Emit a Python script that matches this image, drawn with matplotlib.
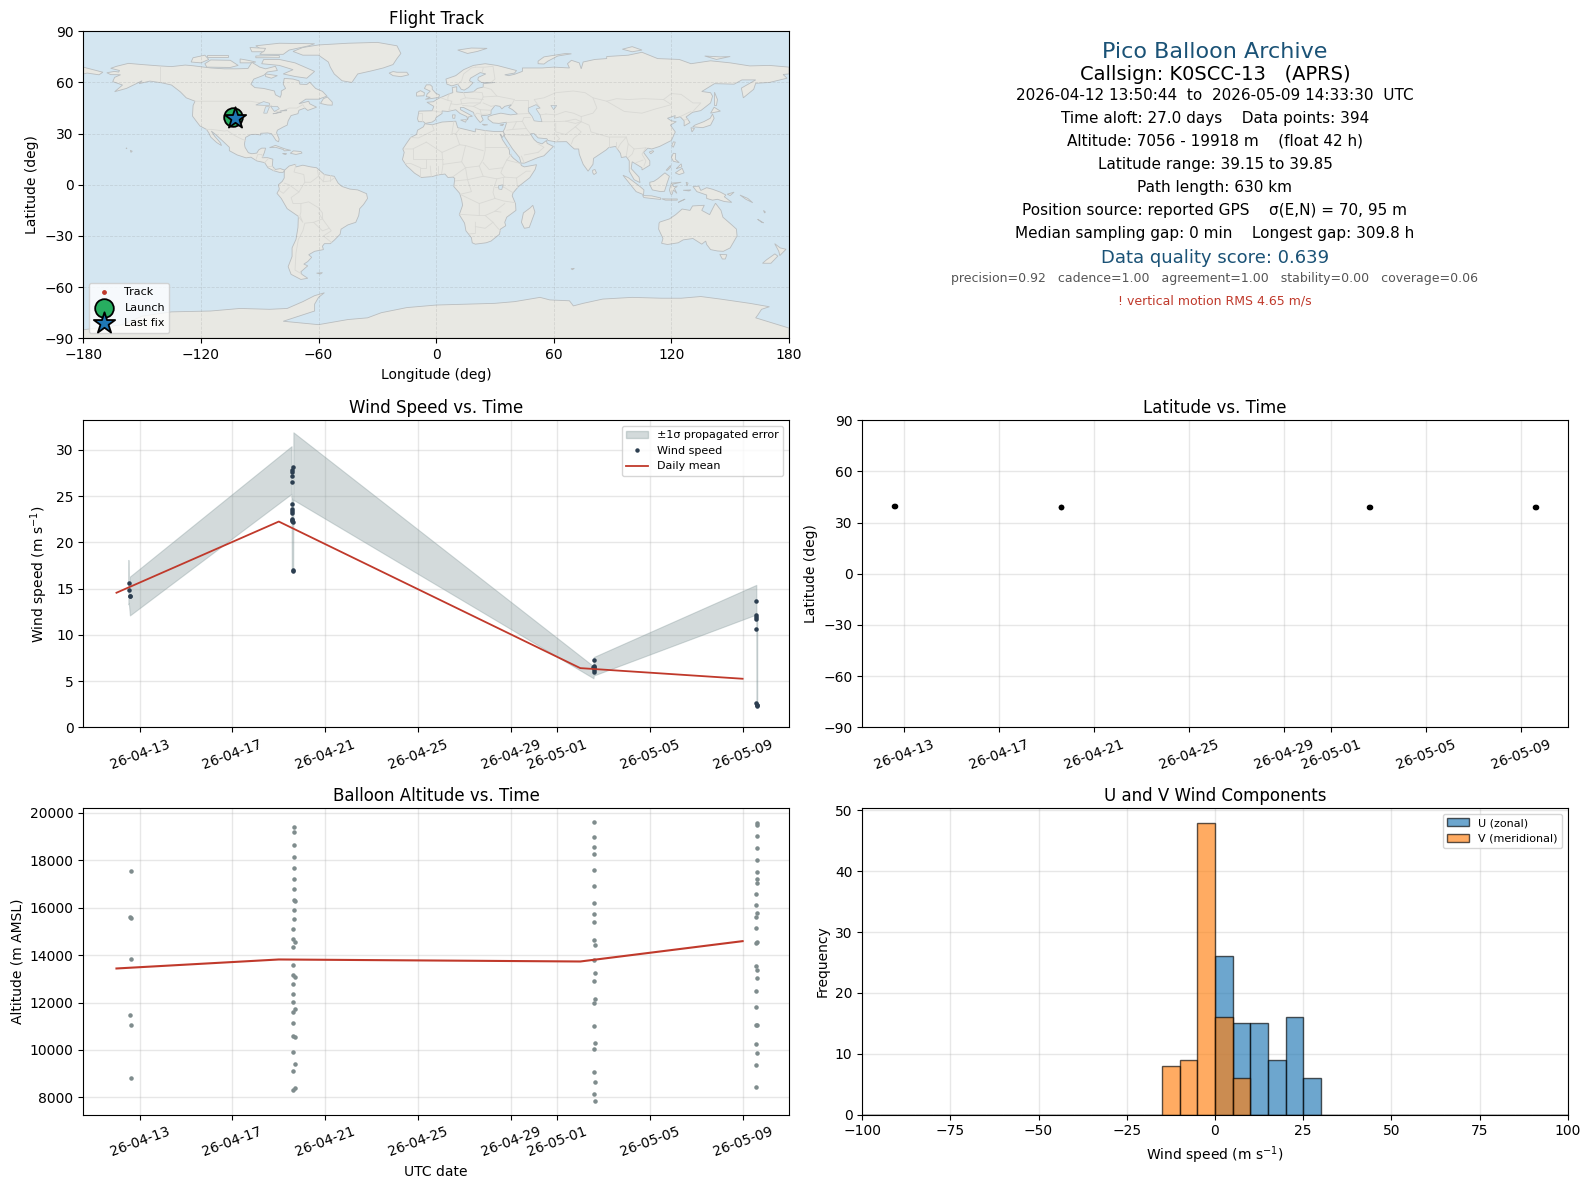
from datetime import datetime
import numpy as np
import matplotlib
matplotlib.use("Agg")
import matplotlib.pyplot as plt
import matplotlib.dates as mdates
from matplotlib.patches import Patch, Polygon
from matplotlib.lines import Line2D

# days are counted from 1 April 2026 (so 32.5 = 2 May, midday)
wind_band_day = [12.515, 12.535, 12.58, 19.55, 19.56, 19.62, 19.63, 32.57, 32.58, 39.59, 39.595, 39.63]
wind_band_low = [13.3, 13.4, 12.1, 25.25, 16.8, 16.8, 24.6, 5.3, 5.6, 12.2, 2.3, 2.3]
wind_band_high = [18.1, 15.0, 16.3, 30.4, 24.9, 24.6, 31.9, 6.6, 7.6, 15.4, 12.0, 12.0]

wind_day = [12.55, 12.55, 12.59, 12.59,
            19.63, 19.55, 19.55, 19.55, 19.55, 19.55, 19.56, 19.56, 19.56, 19.57, 19.58, 19.6, 19.61, 19.63, 19.59,
            32.58, 32.58, 32.58, 32.58, 32.58, 32.56, 32.6,
            39.57, 39.57, 39.57, 39.57, 39.57, 39.58, 39.6, 39.62, 39.6]
wind_speed = [15.65, 14.8, 14.25, 14.2,
              28.2, 27.8, 27.6, 27.2, 26.5, 24.2, 23.6, 23.4, 23.2, 22.4, 22.3, 22.2, 17.0, 16.95, 22.5,
              7.3, 6.6, 6.4, 6.15, 6.0, 6.5, 6.5,
              13.7, 12.1, 11.95, 11.7, 10.6, 2.6, 2.45, 2.45, 2.3]

mean_day = [12, 19, 32, 39]
mean_wind = [14.55, 22.25, 6.4, 5.25]
mean_alt = [13437, 13817, 13732, 14591]

alt_day = [12.61, 12.57, 12.61, 12.61, 12.57, 12.61, 12.61,
           19.65, 19.65, 19.65, 19.65, 19.65, 19.65, 19.65, 19.65, 19.7, 19.65, 19.65, 19.61, 19.61, 19.7, 19.61,
           19.61, 19.61, 19.7, 19.61, 19.61, 19.61, 19.7, 19.61, 19.61, 19.61, 19.7, 19.61, 19.7, 19.61, 19.61, 19.7,
           32.59, 32.59, 32.59, 32.59, 32.59, 32.59, 32.59, 32.59, 32.59, 32.59, 32.63, 32.59, 32.63, 32.59, 32.63,
           32.59, 32.59, 32.63, 32.59, 32.59, 32.63, 32.59, 32.63,
           39.6, 39.6, 39.6, 39.6, 39.6, 39.6, 39.6, 39.6, 39.56, 39.56, 39.6, 39.56, 39.56, 39.6, 39.56, 39.56, 39.6,
           39.6, 39.56, 39.56, 39.6, 39.56, 39.56, 39.6, 39.56, 39.56]
alt_m = [17549, 15606, 15563, 13831, 11465, 11042, 8803,
         19408, 19197, 18648, 18141, 17676, 17211, 16789, 16324, 16282, 15901, 15521, 15099, 14676, 14563, 14338,
         13577, 13155, 13070, 12775, 12352, 12014, 11718, 11592, 11127, 10577, 10535, 9901, 9394, 9099, 8296, 8380,
         19620, 18986, 18563, 18268, 17592, 16915, 16197, 15732, 15394, 14634, 14423, 13789, 13239, 12901, 12141,
         11972, 11000, 10282, 10028, 9056, 8634, 8127, 7831,
         19577, 19507, 19028, 18521, 18014, 17507, 17211, 17042, 16577, 16113, 15775, 15606, 15141, 14549, 14521, 13535, 13366,
         13028, 12479, 11803, 11042, 11042, 10239, 9859, 9352, 8423]

lat_day = [12.59, 12.62, 19.62, 19.62, 32.59, 32.62, 39.6, 39.62]
lat_deg = [39.7, 39.85, 39.4, 39.35, 39.3, 39.3, 39.25, 39.3]

track_lon = [-103.7, -104.0, -103.2, -102.8]
track_lat = [39.8, 39.4, 39.2, 39.4]
launch_lon, launch_lat = -103.7, 39.8
last_lon, last_lat = -102.6, 39.4

bin_edges = np.arange(-100, 105, 5)
u_bin_left = [0, 5, 10, 15, 20, 25]
u_counts = [26, 15, 15, 9, 16, 6]
v_bin_left = [-15, -10, -5, 0, 5]
v_counts = [8, 9, 48, 16, 6]

info_lines = ["Pico Balloon Archive",
              "Callsign: K0SCC-13   (APRS)",
              "2026-04-12 13:50:44  to  2026-05-09 14:33:30  UTC",
              "Time aloft: 27.0 days    Data points: 394",
              "Altitude: 7056 - 19918 m    (float 42 h)",
              "Latitude range: 39.15 to 39.85",
              "Path length: 630 km",
              "Position source: reported GPS    σ(E,N) = 70, 95 m",
              "Median sampling gap: 0 min    Longest gap: 309.8 h",
              "Data quality score: 0.639",
              "precision=0.92   cadence=1.00   agreement=1.00   stability=0.00   coverage=0.06",
              "! vertical motion RMS 4.65 m/s"]
info_y_px = [52, 74.3, 95.3, 118.3, 141.3, 164.3, 187.3, 210.3, 233.3, 257.7, 278.7, 301.2]
info_size = [16, 14, 11, 11, 11, 11, 11, 11, 11, 13, 9, 9]
info_color = ["#1a5276", "black", "black", "black", "black", "black", "black", "black", "black",
              "#1a5276", "#555555", "#c0392b"]

# rough world outline, lon/lat typed from memory
land = [
    # North and Central America
    [(-168,65.7),(-164,66.5),(-162,66.1),(-161.5,67),(-166,68.3),(-163,69.5),(-157,71.2),(-150,70.5),(-141,69.7),(-135,69.3),
     (-128,70.2),(-124,69.8),(-115,68.5),(-108,68),(-102,68),(-96,68.2),(-94,71.8),(-90,69),(-87,68),(-82,69.5),(-81,67),
     (-86,66.2),(-88,64.2),(-93,62),(-94.5,59),(-92.5,57),(-88,56.5),(-82.5,55),(-82,52.8),(-79.5,51.3),(-79,53),(-79,55),
     (-76.8,56.5),(-78,59),(-77.5,62.4),(-73,62),(-70,61),(-69.5,59),(-66,58.8),(-64.5,60.2),(-61.5,56.5),(-58,54.8),
     (-55.7,52),(-60,50.2),(-66.5,50.2),(-70,47.5),(-65,49),(-64.5,47.5),(-61,45.5),(-65.5,43.6),(-67,45),(-70,43.7),
     (-70.5,41.7),(-74,40.6),(-75.5,37.5),(-76,35),(-78,33.9),(-81,32),(-81.4,30.5),(-80.1,26.8),(-80.4,25.2),(-81.7,26),
     (-82.8,28),(-84,30),(-86,30.4),(-89.5,30.2),(-89.5,29.2),(-92,29.6),(-94.5,29.5),(-97.2,27.8),(-97.8,24),(-97.5,22),
     (-95.8,18.8),(-94,18.2),(-91.5,18.6),(-90.5,20.5),(-89,21.5),(-87,21.5),(-87.6,19),(-88.3,17),(-88.8,15.9),(-86,15.9),
     (-83.3,15),(-83.6,11),(-82,9),(-79.5,9.5),(-77.3,8.6),(-78,7.3),(-80,7.3),(-83,8.3),(-85.8,10),(-87.5,13),(-91.5,14),
     (-94.5,16.2),(-97,15.8),(-101.5,17.5),(-105.5,20),(-105.5,22),(-109,25.8),(-112.5,29.5),(-114.7,31.5),(-113,28.5),
     (-110,24.5),(-109.5,23),(-112,24.8),(-115,28),(-116,30.5),(-117.2,32.5),(-120.5,34.5),(-122.5,37.5),(-124.3,40.3),
     (-124,46.5),(-123,49),(-127.5,51),(-130.5,54.5),(-135,58.5),(-140,59.8),(-146,60.8),(-151.5,59.3),(-150,61),(-153.5,59),
     (-158,56.5),(-164,54.6),(-160,58.5),(-165,60.5),(-164,63),(-161,64.5),(-166,64.6)],
    # South America
    [(-77.3,8.6),(-75,11),(-72,12),(-71.5,10.5),(-68,11.5),(-64,10.5),(-61,10),(-57,6),(-52,5),(-50,1),(-48,-1),(-44,-2.5),
     (-40,-3),(-35.5,-5.2),(-35,-8),(-37,-11.5),(-39,-14),(-39.5,-18),(-41,-22),(-45,-23.5),(-48.5,-26),(-49,-29),(-52,-32.5),
     (-54,-34.5),(-57,-34.5),(-58,-36),(-57.5,-38),(-62,-39),(-65,-41),(-63.5,-42.5),(-65.5,-45),(-67.5,-46.5),(-65.5,-47.5),
     (-69,-51),(-68.5,-52.5),(-65.5,-54.8),(-69,-55.5),(-74,-52.5),(-75.5,-48),(-73.5,-42),(-73.5,-37),(-71.5,-32),(-70.5,-25),
     (-70.3,-18.5),(-76,-14),(-79,-8),(-81.2,-5),(-80,-2.5),(-80.5,0),(-78.5,2),(-77.5,4),(-77.5,7)],
    # Greenland and arctic islands
    [(-73,78.2),(-68,80.5),(-60,82),(-45,83),(-30,83.5),(-20,81.5),(-18,77),(-20,74),(-22,70.5),(-27,68.5),(-33,66.8),(-40,65),
     (-43,60),(-48,61),(-52,65),(-54,69),(-55,72),(-60,76),(-68,76)],
    [(-80,73.5),(-72,71.5),(-67,69),(-62,66.5),(-66,62.5),(-72,63.5),(-78,65),(-73,67.5),(-80,70),(-89,71),(-88,73.5)],
    [(-90,76.5),(-78,76.5),(-75,79),(-65,81.5),(-62,82.7),(-80,83),(-92,81.5),(-88,78.5)],
    [(-117,69),(-105,68.8),(-101,70),(-105,73),(-115,73.2),(-118,71)],
    [(-125,72),(-120,71.5),(-116,73.5),(-118,76),(-124,74.5)],
    [(-92,75.5),(-80,75.8),(-80,74.5),(-92,74.5)],
    [(-100,73.8),(-96,73),(-92,72),(-95,71.5),(-100,71.5)],
    [(-117,76),(-106,76),(-106,75),(-117,75)],
    [(-95,80.5),(-87,80),(-88,78),(-94,78)],
    [(-87,65),(-81,64),(-84,62.5),(-87,63.5)],
    [(-59,47.7),(-55.5,46.8),(-53,46.7),(-53,48.5),(-55.5,51.5),(-57.5,50.5)],
    # Caribbean, Pacific bits
    [(-85,21.8),(-82,23.1),(-77,21),(-74.2,20.2),(-77.5,19.9),(-78,20.7),(-82,22)],
    [(-74.4,18.5),(-72.8,19.9),(-69,19.5),(-68.4,18.6),(-71.5,17.8)],
    [(-78.3,18.3),(-76.3,18.2),(-77,17.8)],
    [(-156,20.2),(-155,19.7),(-155.7,19)],
    [(-158.2,21.6),(-157.7,21.4),(-158,21.2)],
    [(-61,-51.8),(-58,-51.5),(-59,-52.3)],
    # Eurasia
    [(-9,37),(-9.5,38.7),(-8.8,43.2),(-2,43.4),(-1.2,46),(-4.7,48.4),(-1.5,48.7),(1.5,50.8),(4,52),(7,53.5),(8.5,54),(8.2,57),
     (10.5,57.5),(10.5,54.5),(14,54),(19,54.5),(21,56.5),(24,57.3),(24,59.3),(30,60),(23,60),(21.3,61.5),(21.5,63),(25.3,65),
     (22.5,65.8),(17.5,62.5),(17,61),(18.8,59.8),(16.5,57),(14.3,55.5),(12.8,56),(11,59),(8,58),(5.5,59),(5,62),(10,64),(14,67.5),
     (19,70),(25,71),(31,70),(41,67),(40,65.5),(35,64.5),(37,64),(40,64.8),(44,66.5),(44,68.5),(54,68.5),(60,69),(68,68.5),(67,71),
     (69,73),(73,71.5),(74,68),(75,72),(81,73.5),(87,74),(87,75.2),(98,76),(105,77.7),(113,74),(124,73.5),(130,71),(140,72.7),
     (150,71.5),(160,69.7),(170,70),(180,69),(180,65),(177,64.7),(179,62.5),(170,60),(163,59.5),(162,56),(156.7,51),(155.7,56.7),
     (163,61.5),(156,61.5),(152,59),(142,59.3),(135.5,54.7),(140,54),(141,52),(140,48),(135,43.5),(130.8,42.5),(127.5,39.8),
     (129.5,36.5),(126.5,34.5),(126.5,37.5),(124.5,39.9),(121.5,39),(122,40.6),(118,39),(120,37.5),(122.5,37),(119.5,35),(122,31),
     (120,26),(114,22.5),(110,21),(108,21.5),(105.8,19),(109,14),(109,11.5),(105,8.7),(105,10),(100,13.5),(99.5,9.5),(103.5,4.5),
     (104,1.3),(101,3),(98.5,8),(98.5,14),(97,16.5),(94.5,16),(94,18.5),(91.5,22.5),(88,21.8),(86.8,20.5),(80.3,15.5),(80,12),
     (77.5,8),(75,12),(73,18),(72.7,21),(70.5,21),(69,22.5),(66.5,25.3),(61,25.2),(57,26),(56.5,27),(52,27.5),(50,30),(48,30),
     (50,26.5),(51.5,25),(54,24),(56.3,26),(56.6,24.3),(59.8,22.5),(55,17),(52,16),(45,12.7),(43.3,12.7),(42.5,16),(39,21),(35,28),
     (34.8,29.5),(34.2,31.3),(35,33),(36,36.7),(32,36),(29,36.3),(26.5,38.5),(26.5,40),(29,41),(33,42),(38,41),(41.5,41.5),(39,44),
     (37,45.3),(38.5,47),(35,46),(33.5,44.5),(32.5,46),(30,46.5),(28,43.5),(28,41.5),(26,40.8),(23,40.5),(24,38),(22.5,36.5),
     (21,38.5),(19.5,41),(19,42.5),(14,45.3),(12.3,45.3),(12.5,44),(16,41.8),(18.5,40.2),(16.5,39.8),(16,38),(15.7,40),(12.2,41.8),
     (10,44),(6,43),(3,43.3),(3,41.8),(0,39.5),(-0.5,38),(-2,36.8),(-5.5,36),(-6.5,37)],
    [(-180,69),(-175,67.5),(-170,66),(-172,64.5),(-178,65.5),(-180,65)],
    # Africa
    [(-5.8,35.8),(-2,35.2),(3,36.8),(10,37.3),(11,33.5),(15.5,32.3),(20,31),(20,32.8),(25,31.8),(30,31.2),(32.3,31.2),(34.2,31.3),
     (34.8,29.5),(33.8,27.8),(32.7,29.8),(33.8,26.5),(35.8,23),(37.3,20.5),(37.5,18),(39.5,15.5),(43.2,12.2),(43.5,11.3),(45,10.5),
     (51.2,11.8),(50.5,9),(47.8,4.2),(42,-1),(39.2,-4.8),(38.8,-6.5),(40.5,-11),(40.7,-15),(36,-19),(35,-22),(35.5,-24),(32.8,-26),
     (32.3,-29),(28,-33),(25.5,-34),(20,-34.8),(18.4,-34),(18,-31),(15.2,-27),(14.5,-22.5),(11.8,-17.5),(13.5,-12),(13,-8.8),(12,-5),
     (9,-1),(9.5,3.8),(8.5,4.5),(6,4.3),(4.5,6.3),(1,5.8),(-2,4.8),(-7.5,4.3),(-11,6.8),(-13.5,9.5),(-15,11),(-17.2,14.8),(-16.3,19),
     (-17,21),(-15,24.5),(-13,27.8),(-10,29.5),(-9.5,32),(-6.5,34)],
    [(49.3,-12),(50.4,-16),(47.5,-25),(45,-25.5),(43.5,-22),(44.5,-16.5),(48,-13.5)],
    # European islands
    [(-5.5,50.1),(1.3,51.2),(1.7,52.7),(0,53.5),(-2,56),(-2,57.6),(-3,58.6),(-5,58.6),(-6,56.5),(-3,54.9),(-4.6,53.2),(-5,51.7),(-3,51.3)],
    [(-10,52),(-6.2,52.2),(-6,54),(-8,55.2),(-10,54)],
    [(-24,65.5),(-22,64),(-18,63.4),(-14,64.5),(-15,66),(-20,66),(-22,66.4)],
    [(11,79),(16,77),(21,78.2),(26,80),(18,80.2)],
    [(52,71),(55,70.8),(57,72.5),(62,75.5),(69,76.8),(66,77),(55,75),(52,72.5)],
    [(95,79.5),(100,78),(105,79),(100,81)],
    [(137,75.5),(145,75),(150,75.2),(143,73.5)],
    [(12.5,38),(15.5,38.2),(15,36.7)],
    [(8.3,41),(9.7,41),(9.5,39),(8.5,39)],
    [(23.5,35.5),(26.3,35.2),(24.5,34.9)],
    [(32.5,35),(34.5,35.6),(33.8,34.7)],
    # East and South East Asia
    [(142,54.3),(143.5,50),(143,46.5),(142,46.5),(142,50)],
    [(130.9,34),(136,33.5),(140,35),(141.8,39),(141,41.5),(139.8,39),(136.5,37),(132,35)],
    [(140,42),(145,43.2),(141.8,45.5)],
    [(130,33.5),(131.8,33),(130.5,31)],
    [(120.2,23),(121,22),(122,25),(121,25.2)],
    [(108.7,19.2),(110.5,20),(111,19.6),(109.5,18.2)],
    [(79.8,8.5),(81,9),(81.8,7),(80.5,6),(79.9,7)],
    [(120,16),(121,18.5),(122.2,18.3),(122,15),(124,13),(121,13.8)],
    [(122,7),(125.5,9.7),(126.5,7),(124,6)],
    [(123,10),(125,12.3),(125.3,10.5),(122.5,9.5)],
    [(117.3,8.5),(119.5,11.3),(119.7,10.5),(118,8.5)],
    [(95.3,5.6),(98,4.2),(104,-1),(106,-3),(105.8,-5.8),(102,-4),(98.5,1)],
    [(105.3,-6.3),(110,-6.5),(114.5,-7.7),(114.5,-8.6),(106,-7.5)],
    [(115,-8.2),(119,-8.3),(123,-8.3),(123,-9),(117,-9)],
    [(123.5,-10.3),(127,-8.4),(125,-9.4)],
    [(109,1.5),(111,2),(113,3.5),(116.7,7),(119,5),(117.8,1),(116.5,-3.8),(114.5,-4),(110.3,-3),(109,0)],
    [(119.7,-5.5),(119,-3),(120,1),(125,1.5),(120.5,0.3),(121,-1),(123,-1),(121.5,-2),(122.8,-5),(121,-3),(120.4,-5.5)],
    [(127.5,1.5),(128.5,1),(128,-0.7)],
    [(126,-3.2),(130,-3),(129,-3.6)],
    # New Guinea and Oceania
    [(131,-1),(134,-0.8),(135,-3.3),(138,-1.7),(141,-2.6),(145,-4.3),(147.8,-6),(147,-7),(150.8,-10.3),(147,-9.8),(143.5,-8.5),
     (141,-9),(138,-8),(138,-6),(133,-4),(132,-2.5)],
    [(113.7,-22.5),(114.2,-21.8),(119,-20),(122.2,-17.5),(125.5,-14.2),(129.5,-15),(130.8,-12.4),(136.8,-12),(135.5,-15),(139.5,-17.5),
     (141.7,-12.5),(142.5,-10.8),(145.3,-15),(146.3,-19),(150.8,-23.5),(153.2,-26),(153.5,-30),(150,-37),(146.5,-39),(143.5,-38.8),
     (140,-38),(138,-35),(137.5,-33),(135.5,-34.8),(131,-31.5),(126,-32.3),(123.5,-34),(118,-35),(115,-34.3),(115.7,-31.5),(113.5,-26)],
    [(144.7,-40.8),(148.3,-41),(147.5,-43.5),(146,-43.5)],
    [(172.7,-34.5),(175.5,-37),(178.5,-37.8),(175.3,-41.5),(174.8,-39)],
    [(172.8,-40.5),(174.3,-41.8),(170.8,-46),(166.5,-46),(168.5,-44)],
    [(148.5,-5.5),(152,-4.3),(150,-6.3)],
    [(155,-6),(159,-8),(161.5,-10.5),(158,-8.5)],
    [(167,-15),(167.5,-16.5),(168,-16)],
    [(164,-20.2),(167,-22.3),(166,-22)],
    [(68.8,-49.2),(70.5,-49),(69.5,-49.8)],
    # Antarctica
    [(-180,-85),(-160,-82),(-150,-77),(-135,-74.5),(-115,-74),(-100,-72.5),(-85,-73),(-76,-72.5),(-68,-68.5),(-62,-65),(-57,-63.3),
     (-60,-66),(-62,-70),(-62,-74),(-70,-77),(-78,-80),(-60,-82),(-45,-79),(-35,-78),(-28,-75),(-15,-72),(0,-70.5),(15,-70),(30,-69.5),
     (40,-68.5),(53,-66),(58,-67.5),(68,-68),(70,-71),(75,-69.5),(85,-67),(100,-66),(115,-66.5),(125,-66.5),(135,-65.5),(145,-67),
     (160,-69.5),(170,-71.5),(166,-73),(164,-76.5),(163,-78),(180,-84),(180,-90),(-180,-90)],
]

lakes = [
    [(47,45),(51,47),(53,45),(51,44.5),(53,41),(54,37),(50,37.5),(49,40),(47,43)],
    [(-92,46.8),(-88,48.8),(-85,47.8),(-85,46.6),(-88,46.6)],
    [(-88,42),(-87,45.8),(-85,45.8),(-86.3,42)],
    [(-84.5,46),(-81,46),(-80,44.6),(-82.5,43)],
    [(-83.3,41.6),(-79,42.8),(-79,42.5)],
    [(-79.7,43.3),(-76.2,44),(-76.3,43.4)],
    [(58.5,46.5),(61.5,46.5),(60,44)],
    [(31.8,-0.5),(34,0),(33.5,-2.8),(32,-2.5)],
]

borders = [
    [(-141,69.7),(-141,60)], [(-123,49),(-95,49),(-89,48),(-84,46.5),(-82.5,43),(-79,43),(-75,45),(-71,45),(-68,47),(-67,45)],
    [(-117.2,32.5),(-114.7,32.5),(-108,31.5),(-106.5,31.8),(-103,29),(-99.5,27),(-97.2,25.9)],
    [(-92,14.5),(-91,17.8),(-89,17.8),(-88.3,15.8)], [(-87.5,13),(-85.5,15.5)], [(-85.8,11),(-83.7,11)], [(-83,8.3),(-82.6,9.5)],
    # South America
    [(-71.5,12),(-72.5,7.5),(-67.5,6),(-67,1.5),(-70,-4.2),(-74,-7.5),(-73,-11),(-69,-11),(-65,-10),(-60,-13.5),(-58,-16.5),(-58,-20),(-54.5,-25.5),(-53.5,-27),(-57.5,-30),(-53.5,-33.7)],
    [(-67,1.5),(-64,1.5),(-60,5),(-60.5,8.5)], [(-60,5),(-57.5,1.8),(-54,2.3),(-52,4)], [(-57,6),(-57.5,1.8)], [(-54,5.8),(-54,2.3)],
    [(-77.5,1),(-75,0),(-70,-4.2)], [(-80,-3.4),(-78,-5),(-75,-1.5)], [(-69,-11),(-69,-16),(-69.5,-18),(-68,-22),(-70.4,-18.4)],
    [(-58,-20),(-62.5,-22),(-67,-22.5),(-68,-27),(-70.3,-32),(-71.5,-40),(-72,-50),(-69,-52)], [(-62.5,-22),(-58,-27),(-54.5,-25.5)], [(-58,-20),(-60,-16.5)],
    # Europe
    [(-9,42),(-7,42),(-7,37.2)], [(-1.8,43.4),(3,42.5)], [(2.5,51),(6,49.5),(8,49),(7.5,47.5),(10.5,47),(13,47.5),(17,48),(22.5,48),(24,51.5),(23.5,54),(19,54.5)],
    [(6,49.5),(6,51.5),(7,53.5)], [(7.5,47.5),(6.5,44),(7.5,43.8)], [(14,54),(15,51),(12.5,50),(13,47.5)], [(15,51),(24,50)], [(13.5,46.5),(19,46),(22.5,48)],
    [(19,46),(22.5,44),(28,43.7)], [(22.5,44),(23,41.3),(26,41.5)], [(19.5,41),(21,42),(23,41.3)], [(24,51.5),(31,52),(40,50),(38.5,47)], [(24,57.3),(28,56),(31,52)],
    [(28,60),(30,62),(29,69.5),(25,69),(20,69)], [(11,59),(13,61),(14,65),(18,68.5),(20,69)], [(23.5,66),(24,68.5)],
    [(28,46),(30,46.5)], [(24,48),(28,46)],
    # Russia and central Asia
    [(40,50),(47,50),(47,45)], [(53,45),(50,50),(55,51),(61,54),(70,55),(76,54),(80,51),(87,49),(92,50.5),(98,50),(106,50.5),(116,50),(120,53.5),(125,53),(131,48),(135,48),(131,43)],
    [(87,49),(96,43),(105,42),(112,44.5),(120,47),(116,50)], [(80,51),(82,45),(80,42),(74,40),(74,37),(78,35),(79,31),(88,28),(97,28),(98,24),(101,21),(107,21.7)],
    [(54,37),(60,37),(66,37.3),(71,38.5),(74,37)], [(56,41.5),(53,41)], [(56,41.5),(61,41),(66,43),(70,42),(74,40)], [(66,37.3),(71,36),(74,37)], [(61,36),(61,31),(66,29.5),(71,34),(74,37)],
    [(61,25.2),(63,27),(61,29.5)], [(71,34),(74,31),(70,27),(69,24)], [(88,28),(88,22)], [(92,25),(92,21.5)], [(97,28),(94,24),(92.5,21)], [(98,24),(97,17)], [(101,21),(100,18),(98,16)], [(107,21.7),(105,18),(107,14),(106,11)], [(102,13),(105.5,14.5)],
    [(124.5,40),(130,43)], [(126.5,38),(128.5,38.5)],
    # Middle East
    [(44,37.2),(41,37),(36,36.5)], [(44,37.2),(46,33),(48,30)], [(44,37.2),(44.8,39.5),(48,39.5)], [(41,37),(39,32.5),(36,32)], [(46,33),(39,32.5)], [(47.5,29),(44,29),(35,29.5)],
    [(45,12.8),(43.5,16.8)], [(52,19),(55,22),(52,24)], [(52,19),(45,17.5)], [(42,41.5),(47,41.8),(49,41.5)],
    # Africa
    [(-2,35),(-1,32),(-9,27.5),(-13,27.7)], [(-5,25),(-12,21),(-16,21)], [(-5,25),(3,19),(12,23.5),(15,23),(24,20)], [(9,37),(8,30),(10,30),(12,23.5)], [(10,30),(12,33)],
    [(25,31.8),(25,20),(24,15),(22,11),(15,10),(13,13.5),(15,23)], [(25,22),(37,22)], [(24,13),(27,9),(34,10),(36,14.5),(38.5,18)], [(34,10),(33,7),(35,4.5),(41,4),(41.5,-1.7)],
    [(41,4),(46,8),(48,8)], [(36,14.5),(43,12.5)], [(3,19),(3.5,12),(2.8,6.5)], [(-12,21),(-12,15),(-5,15),(3.5,15)], [(-5,15),(-5,10),(-8,10),(-8,4.5)], [(-8,10),(-13,12.5),(-16,12.5)], [(-3,11),(-2.5,5)], [(1,11),(1,6)],
    [(3.5,12),(13,13.5)], [(8.5,4.7),(15,10)], [(15,10),(16,3),(9.8,2.3)], [(16,3),(24,5),(31,3.5),(35,4.5)], [(22,11),(24,5)], [(31,3.5),(29.5,-1.5),(29,-4.5),(30,-8)], [(34,4),(34,-1),(30,-1)], [(34,-1),(39.3,-4.7)],
    [(16,3),(18,-4),(12.5,-5.5)], [(30,-8),(34.5,-9.5),(40.4,-10.5)], [(30,-8),(22,-11),(13,-6)], [(22,-11),(22,-18),(12,-17.3)], [(22,-18),(25,-18),(30,-15.5),(35,-11)], [(25,-18),(29,-22),(31.5,-25.5),(32.8,-26.8)], [(20,-22),(20,-28.5),(17,-28.8)], [(20,-24.5),(25,-25.5),(29,-22)], [(33,-16),(30,-15.5)],
]

START = mdates.date2num(datetime(2026, 4, 1))
W, H = 1590.0, 1189.0
plt.rcParams["axes.titlepad"] = 5.2


def to_num(days):
    return START + np.asarray(days, dtype=float) - 1


def panel(left, top, right, bottom):
    return plt.gcf().add_axes([left/W, 1-bottom/H, (right-left)/W, (bottom-top)/H])


def date_axis(ax, day_from=10.57, day_to=41.0):
    ax.set_xlim(to_num(day_from), to_num(day_to))
    ax.xaxis.set_major_locator(mdates.DayLocator(bymonthday=[1, 5, 9, 13, 17, 21, 25, 29]))
    ax.xaxis.set_major_formatter(mdates.DateFormatter("%y-%m-%d"))
    ax.tick_params(axis="x", labelrotation=20)
    ax.grid(True, color="#b0b0b0", alpha=0.3, lw=1.0)
    ax.set_axisbelow(True)


fig = plt.figure(figsize=(15.9, 11.89), dpi=100)

LEFT_A, LEFT_B = 83.3, 789.0
RIGHT_A, RIGHT_B = 862.2, 1567.7

# map
ax_map = panel(LEFT_A, 31.3, LEFT_B, 338.3)
ax_map.set_facecolor("#d4e6f1")
for poly in land:
    ax_map.add_patch(Polygon(poly, closed=True, fc="#e8e8e3", ec="#b9bdbf", lw=0.6, zorder=1))
for poly in lakes:
    ax_map.add_patch(Polygon(poly, closed=True, fc="#d4e6f1", ec="#b9bdbf", lw=0.5, zorder=1.2))
for line in borders:
    xy = np.array(line)
    ax_map.plot(xy[:, 0], xy[:, 1], color="#d9d9d5", lw=0.6, zorder=1.1)
ax_map.scatter(track_lon, track_lat, s=6, color="#c0392b", label="Track", zorder=3)
ax_map.scatter([launch_lon], [launch_lat], s=180, color="#27ae60", edgecolor="black", lw=1.3, label="Launch", zorder=4)
ax_map.scatter([last_lon], [last_lat], s=260, marker="*", color="#1f77b4", edgecolor="black", lw=1.3, label="Last fix", zorder=5)
ax_map.set_xlim(-180, 180)
ax_map.set_ylim(-90, 90)
ax_map.set_xticks(np.arange(-180, 181, 60))
ax_map.set_yticks(np.arange(-90, 91, 30))
ax_map.grid(True, color="gray", ls="--", lw=0.6, alpha=0.2, zorder=2)
ax_map.set_xlabel("Longitude (deg)")
ax_map.set_ylabel("Latitude (deg)")
ax_map.set_title("Flight Track")
ax_map.legend(loc="lower left", fontsize=8)

# text block
ax_text = panel(RIGHT_A, 31.3, RIGHT_B, 338.3)
ax_text.axis("off")
for line, y_px, size, col in zip(info_lines, info_y_px, info_size, info_color):
    ax_text.text(0.5, (338.3-y_px)/307.0, line, fontsize=size, color=col,
                 ha="center", va="center", transform=ax_text.transAxes)

# wind speed
ax_wind = panel(LEFT_A, 420.3, LEFT_B, 727.3)
ax_wind.fill_between(to_num(wind_band_day), wind_band_low, wind_band_high, color="#7f9496", alpha=0.34, lw=0.8, zorder=2)
ax_wind.scatter(to_num(wind_day), wind_speed, s=5, color="#2c3e50", zorder=3)
ax_wind.plot(to_num(mean_day), mean_wind, color="#c0392b", lw=1.3, zorder=4)
date_axis(ax_wind)
ax_wind.set_ylim(0, 33.2)
ax_wind.set_ylabel("Wind speed (m s$^{-1}$)")
ax_wind.set_title("Wind Speed vs. Time")
ax_wind.legend(handles=[Patch(color="#7f9496", alpha=0.34, label="±1σ propagated error"),
                        Line2D([], [], ls="", marker="o", ms=2.2, color="#2c3e50", label="Wind speed"),
                        Line2D([], [], color="#c0392b", lw=1.3, label="Daily mean")],
               loc="upper right", fontsize=8)

# latitude has no daily line, so its date range is a little narrower
ax_lat = panel(RIGHT_A, 420.3, RIGHT_B, 727.3)
ax_lat.scatter(to_num(lat_day), lat_deg, s=9, color="black", zorder=3)
date_axis(ax_lat, 11.23, 40.96)
ax_lat.set_ylim(-90, 90)
ax_lat.set_yticks(np.arange(-90, 91, 30))
ax_lat.set_ylabel("Latitude (deg)")
ax_lat.set_title("Latitude vs. Time")

# altitude
ax_alt = panel(LEFT_A, 808.0, LEFT_B, 1114.7)
ax_alt.scatter(to_num(alt_day), alt_m, s=5, color="#7f8c8d", zorder=3)
ax_alt.plot(to_num(mean_day), mean_alt, color="#c0392b", lw=1.5, zorder=4)
date_axis(ax_alt)
ax_alt.set_ylim(7265, 20211)
ax_alt.set_xlabel("UTC date")
ax_alt.set_ylabel("Altitude (m AMSL)")
ax_alt.set_title("Balloon Altitude vs. Time")

# histogram
ax_hist = panel(RIGHT_A, 808.0, RIGHT_B, 1114.7)
ax_hist.hist(np.array(u_bin_left)+2.5, bins=bin_edges, weights=u_counts, color="#1f77b4", alpha=0.65, edgecolor="black", label="U (zonal)")
ax_hist.hist(np.array(v_bin_left)+2.5, bins=bin_edges, weights=v_counts, color="#ff7f0e", alpha=0.65, edgecolor="black", label="V (meridional)")
ax_hist.set_xlim(-100, 100)
ax_hist.set_ylim(0, 50.4)
ax_hist.grid(True, color="#b0b0b0", alpha=0.3, lw=1.0)
ax_hist.set_axisbelow(True)
ax_hist.set_xlabel("Wind speed (m s$^{-1}$)")
ax_hist.set_ylabel("Frequency")
ax_hist.set_title("U and V Wind Components")
ax_hist.legend(loc="upper right", fontsize=8)

fig.savefig("out.png", dpi=100)
